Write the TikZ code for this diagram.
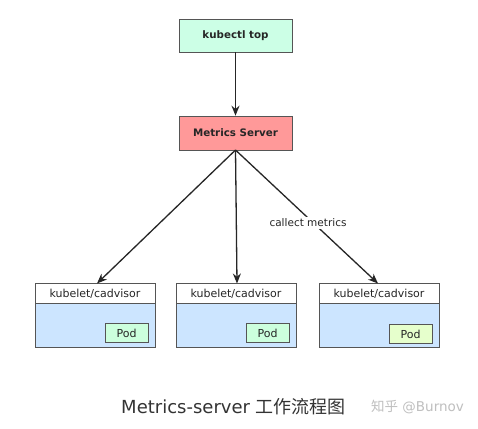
\documentclass[tikz,border=0pt]{standalone}
\usepackage{fontspec}
\setmainfont{DejaVu Sans}
\newfontfamily\cjk{Noto Sans CJK SC}
\usetikzlibrary{arrows.meta}
\definecolor{mint}{HTML}{CCFFE6}
\definecolor{salmon}{HTML}{FF9999}
\definecolor{bodyblue}{HTML}{CCE5FF}
\definecolor{podgreen}{HTML}{CCFFDD}
\definecolor{podyellow}{HTML}{E6FFCC}
\definecolor{edgegray}{HTML}{555555}
\definecolor{captiongray}{HTML}{333333}
\tikzset{
  topbox/.style={draw=edgegray, line width=0.6pt, minimum width=113pt, minimum height=33pt, inner sep=0pt, font=\fontsize{10.3}{12}\selectfont\bfseries, text=black!85},
  hdr/.style={draw=edgegray, fill=white, line width=0.6pt, minimum width=120pt, minimum height=20pt, inner sep=0pt, font=\fontsize{11}{13}\selectfont, text=black!85},
  bodybox/.style={draw=edgegray, fill=bodyblue, line width=0.6pt, minimum width=120pt, minimum height=44pt, inner sep=0pt},
  podbox/.style={draw=edgegray, line width=0.6pt, minimum width=43pt, minimum height=19pt, inner sep=0pt, font=\fontsize{11}{13}\selectfont, text=black!85},
  conn/.style={line width=1.3pt, draw=black!85, -{Stealth[length=10pt,width=8pt]}},
}
\begin{document}
\begin{tikzpicture}[x=1pt,y=-1pt]
\useasboundingbox (0,0) rectangle (478,428);
\fill[white] (0,0) rectangle (478,428);
\node[topbox, fill=mint] (top) at (235.5,35.5) {kubectl top};
\node[topbox, fill=salmon, minimum height=34pt] (ms) at (235.5,133) {Metrics Server};
% nodes
\node[bodybox] (b1) at (95,325.5) {};
\node[hdr] (h1) at (95,293.5) {kubelet/cadvisor};
\node[podbox, fill=podgreen] (p1) at (126.5,333) {Pod};
\node[bodybox] (b2) at (236,325.5) {};
\node[hdr] (h2) at (236,293.5) {kubelet/cadvisor};
\node[podbox, fill=podgreen] (p2) at (267.5,333) {Pod};
\node[bodybox] (b3) at (379,325.5) {};
\node[hdr] (h3) at (379,293.5) {kubelet/cadvisor};
\node[podbox, fill=podyellow] (p3) at (410.5,334) {Pod};
\coordinate (t1) at (97,283.5);
\coordinate (t2) at (237,283.5);
\coordinate (t3) at (378,283.5);
\coordinate (msb) at (235.5,150);
\draw[conn] (top.south) -- (ms.north);
\draw[conn] (msb) -- (t1);
\draw[conn] (msb) -- (t2);
\draw[conn] (msb) -- (t3);
\node[fill=white, inner sep=2pt, font=\fontsize{10.5}{12}\selectfont, text=black!85] (lbl) at (308,223) {callect metrics};
\node[font=\fontsize{18}{20}\selectfont, text=captiongray] (cap) at (233.5,407) {Metrics-server {\cjk 工作流程图}};
\node[font=\fontsize{13.5}{15}\selectfont, text=black!25] (wm) at (417.5,407) {{\cjk 知乎} @Burnov};
\end{tikzpicture}
\end{document}
